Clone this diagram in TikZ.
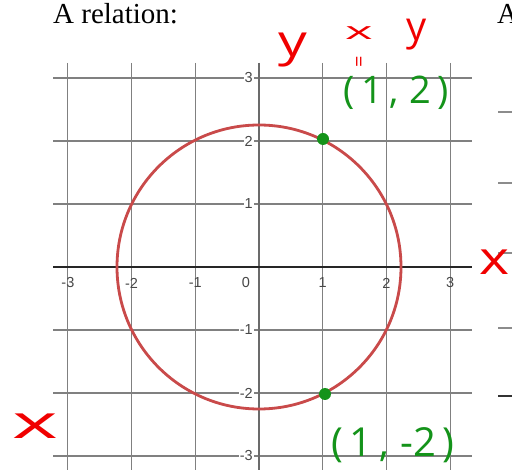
\documentclass[tikz,border=0pt]{standalone}
\usepackage{fontspec}
\setmainfont{Liberation Serif}
\newfontfamily\arialf{Liberation Sans}
\newfontfamily\handf{Open Sans}
\definecolor{curve}{HTML}{C94A4A}
\definecolor{hgreen}{HTML}{14931A}
\definecolor{hred}{HTML}{F00000}
\begin{document}
\begin{tikzpicture}[x=1pt,y=-1pt,
  gridline/.style={draw=black!50, line width=1.1pt},
  ticklab/.style={font=\arialf\fontsize{14.5}{14.5}\selectfont, text=black!72, inner sep=1pt},
  hand/.style={inner sep=0pt},
  dot/.style={circle, fill=hgreen, minimum size=12pt, inner sep=0pt},
  rpanel/.style={draw=black!45, line width=1.1pt}]
\useasboundingbox (0,0) rectangle (512,470);
\fill[white] (0,0) rectangle (512,470);
% title
\node[anchor=base west, font=\fontsize{29}{29}\selectfont, inner sep=0pt] (title) at (53,24) {A relation:};
\node[anchor=base west, font=\fontsize{29}{29}\selectfont, inner sep=0pt] (title2) at (497,24) {A};
% right panel fragments
\foreach \yy in {112,183,253,328} \draw[rpanel] (498,\yy) -- (512,\yy);
\draw[draw=black!80, line width=2pt] (498,396) -- (512,396);
% grid
\foreach \i in {-3,...,3} {
  \pgfmathsetmacro\gx{259+63.7*\i}
  \pgfmathsetmacro\gy{267-63*\i}
  \draw[gridline] (\gx,63) -- (\gx,470);
  \draw[gridline] (53,\gy) -- (472,\gy);
}
% axes
\draw[draw=black!58, line width=2.4pt] (259,63) -- (259,470);
\draw[draw=black!85, line width=2pt] (53,267) -- (472,267);
% tick labels
\foreach \i in {-3,-2,-1,1,2,3} {
  \pgfmathsetmacro\gx{259+63.7*\i}
  \pgfmathsetmacro\gy{267-63*\i}
  \node[ticklab] (tx\i) at (\gx,283) {\i};
  \node[ticklab, anchor=east, fill=white] (ty\i) at (254,\gy) {\i};
}
\node[ticklab] (t0) at (246,283) {0};
% circle
\draw[draw=curve, line width=2.8pt] (259,267) circle [radius=142pt];
% points
\node[dot] (p1) at (323,139) {};
\node[dot] (p2) at (325,394) {};
% handwritten annotations
\node[hand, text=hred, font=\handf\fontsize{44}{44}\selectfont] (ly) at (293,50) {\scalebox{1.3}[1]{y}};
\node[hand, text=hred, font=\handf\fontsize{24}{24}\selectfont] (tx) at (359,33) {\scalebox{2.2}[1]{x}};
\node[hand, text=hred, font=\handf\fontsize{40}{40}\selectfont] (ty) at (417,35) {y};
\node[hand, text=hred, font=\handf\fontsize{20}{20}\selectfont, rotate=90] (eq) at (361,62) {=};
\node[hand, text=hgreen, font=\handf\fontsize{38}{38}\selectfont] (pa) at (396,93) {(\,1\,,\;2\,)};
\node[hand, text=hred, font=\handf\fontsize{46}{46}\selectfont] (rx) at (495,262) {\scalebox{1.25}[1]{x}};
\node[hand, text=hred, font=\handf\fontsize{46}{46}\selectfont] (bx) at (35,426) {\scalebox{1.9}[1]{x}};
\node[hand, text=hgreen, font=\handf\fontsize{40}{40}\selectfont] (pb) at (393,445) {(\,1\,,\;-2\,)};
\end{tikzpicture}
\end{document}
